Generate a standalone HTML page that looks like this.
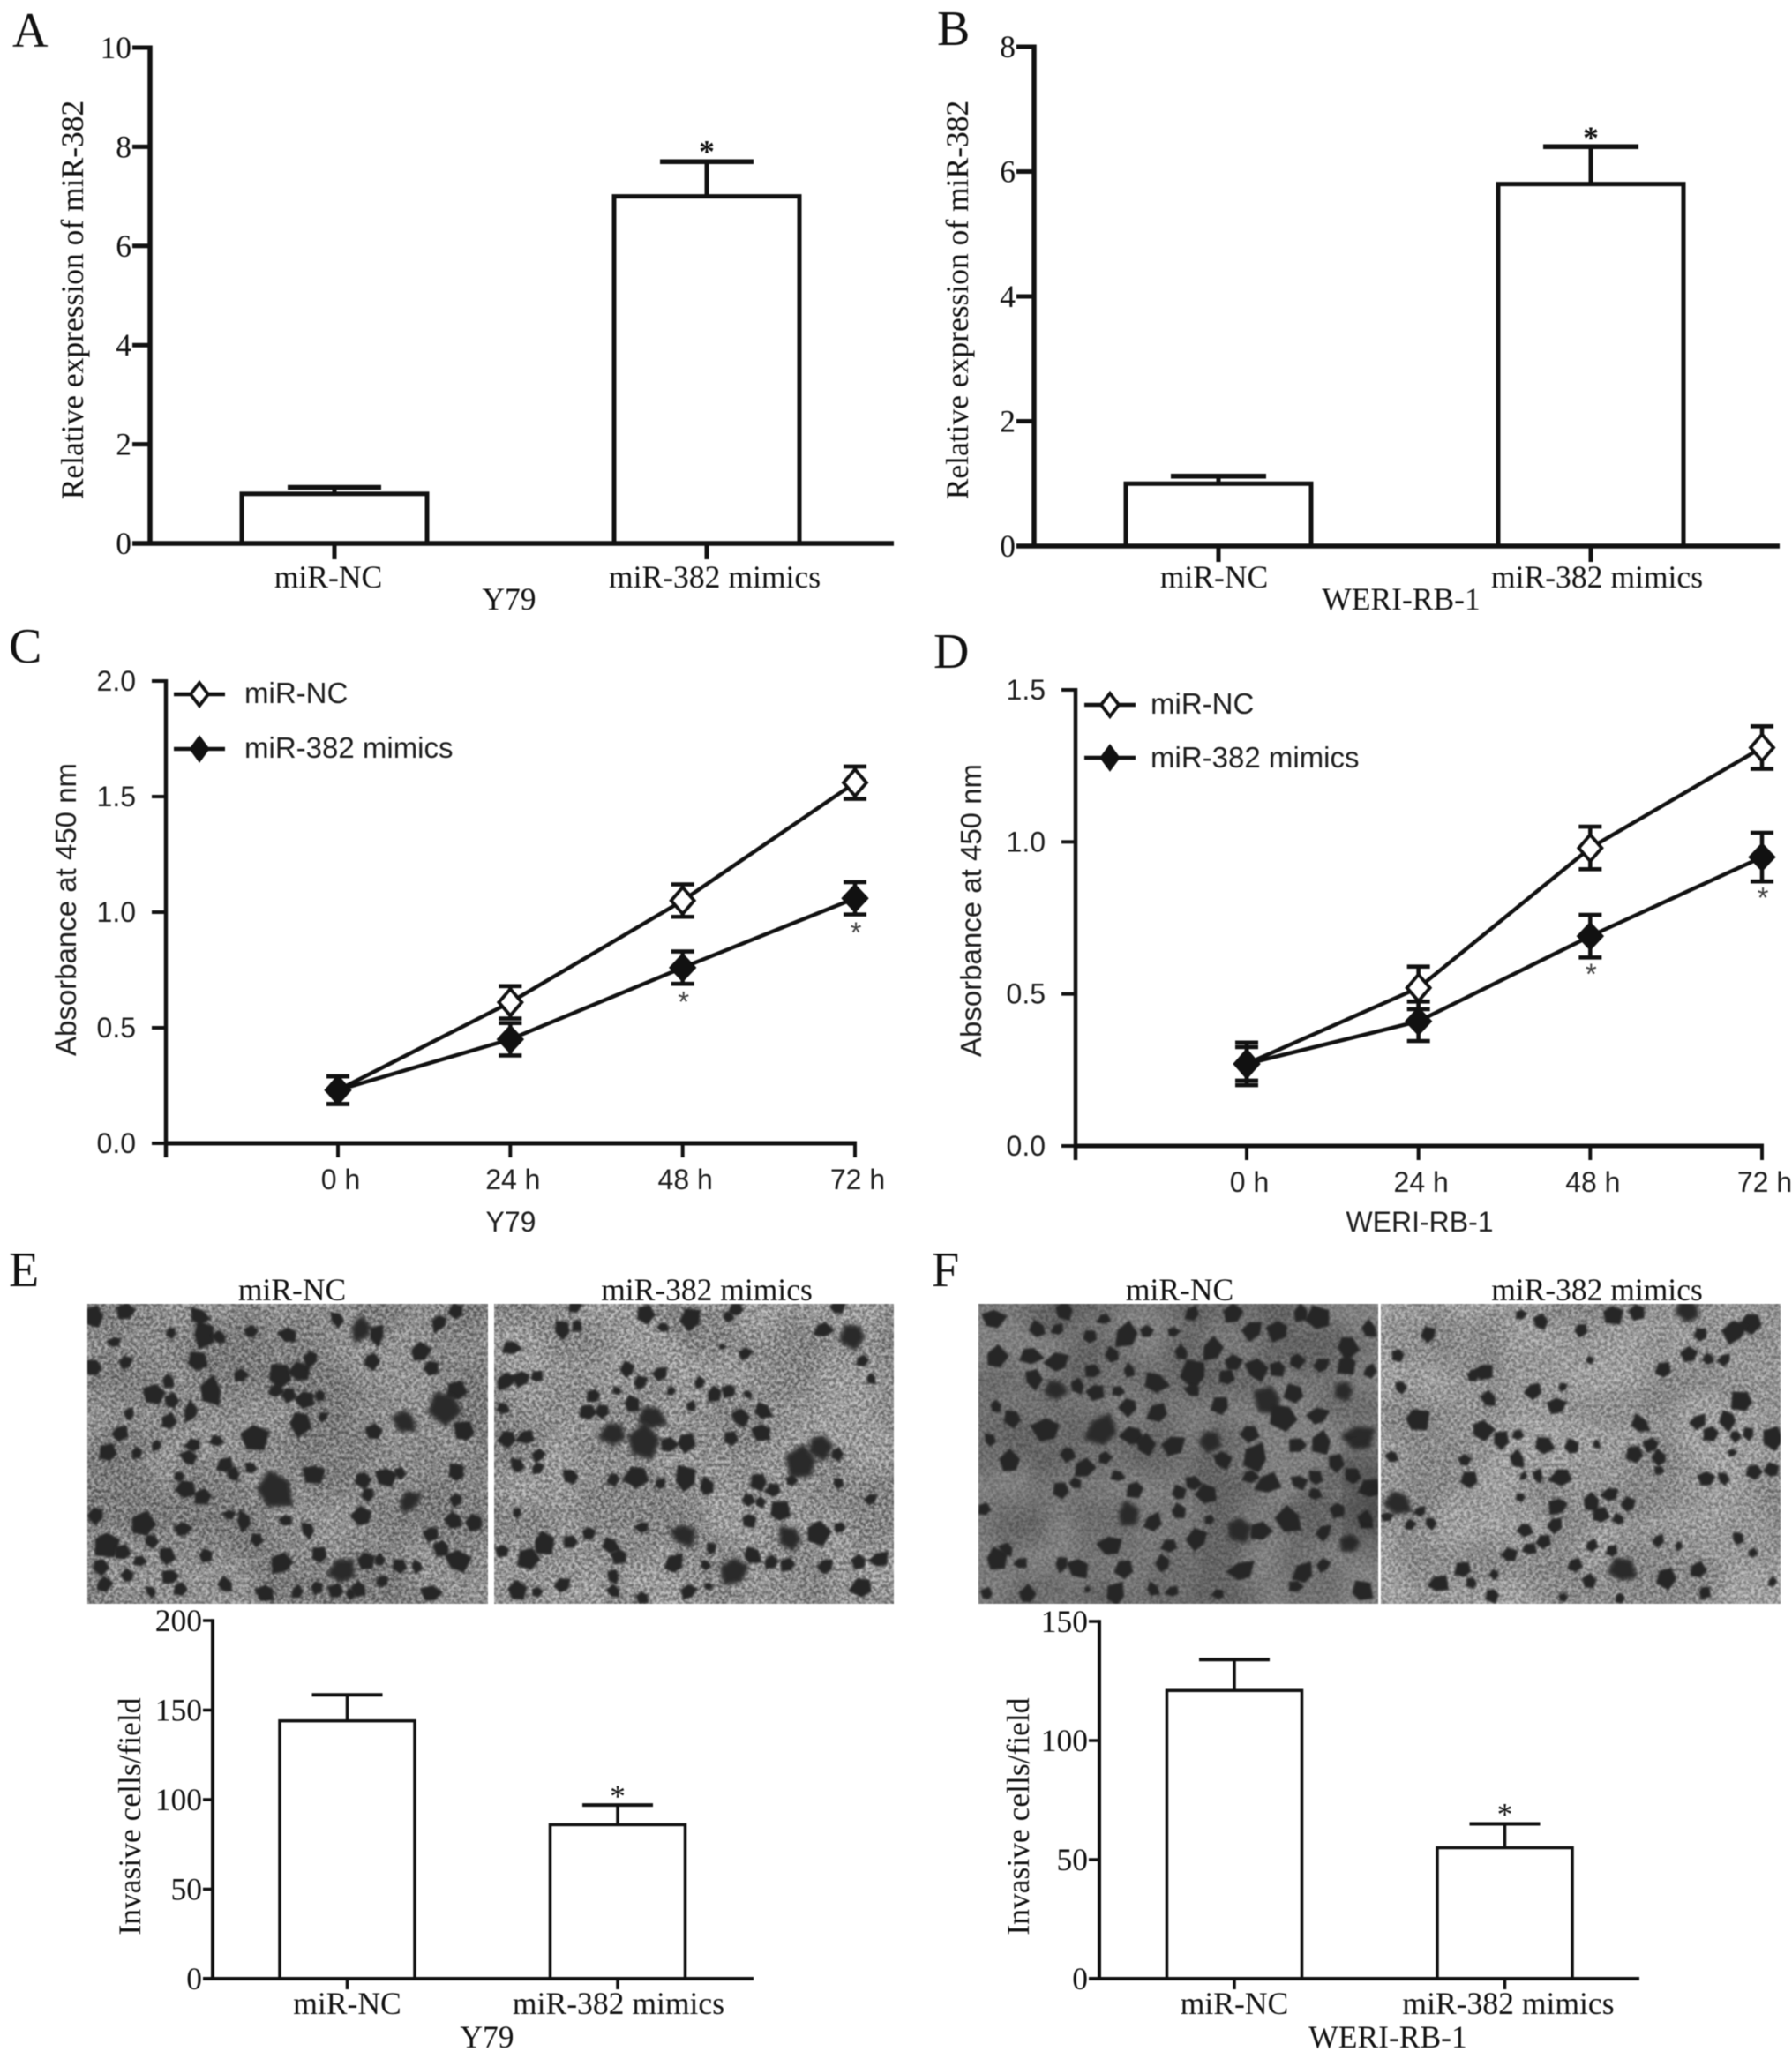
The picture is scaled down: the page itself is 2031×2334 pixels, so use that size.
<!DOCTYPE html>
<html lang="en">
<head>
<meta charset="utf-8">
<title>miR-382 figure</title>
<style>
html,body{margin:0;padding:0;background:#fff;width:2031px;height:2334px;overflow:hidden}
svg{display:block}
.serif{font-family:"Liberation Serif",serif;fill:#111}
.sans{font-family:"Liberation Sans",sans-serif;fill:#1e1e1e}
.letter{font-size:56px}
.s35{font-size:35.5px}
.s36{font-size:35.6px}
.s33{font-size:33px}
.s32{font-size:32px}
</style>
</head>
<body>
<svg id="figure" xmlns="http://www.w3.org/2000/svg" width="2031" height="2334" viewBox="0 0 2031 2334" style="filter:blur(.55px)">
<defs>
<filter id="grain" x="0" y="0" width="100%" height="100%" color-interpolation-filters="sRGB">
<feTurbulence type="fractalNoise" baseFrequency="0.27" numOctaves="2" seed="7"/>
<feColorMatrix type="matrix" values="2.3 0 0 0 -0.65 2.3 0 0 0 -0.65 2.3 0 0 0 -0.65 0 0 0 0 1"/>
</filter>
<filter id="mottle" x="0" y="0" width="100%" height="100%" color-interpolation-filters="sRGB">
<feTurbulence type="fractalNoise" baseFrequency="0.012" numOctaves="2" seed="11"/>
<feColorMatrix type="matrix" values="3 0 0 0 -1 3 0 0 0 -1 3 0 0 0 -1 0 0 0 0 1"/>
</filter>
<filter id="soft"><feGaussianBlur stdDeviation="2.4"/></filter>
<filter id="edge"><feGaussianBlur stdDeviation="1.1"/></filter>
<filter id="vig"><feGaussianBlur stdDeviation="24"/></filter>
</defs>

<text class="serif letter" x="14" y="53">A</text>
<text class="serif letter" x="1062" y="51">B</text>
<text class="serif letter" x="10" y="751">C</text>
<text class="serif letter" x="1058" y="757">D</text>
<text class="serif letter" x="10" y="1458">E</text>
<text class="serif letter" x="1056" y="1458">F</text>

<text class="serif s35" text-anchor="middle" transform="translate(94 340) rotate(-90)">Relative expression of miR-382</text>
<text class="serif s35" text-anchor="middle" x="577" y="691">Y79</text>
<text class="serif s35" text-anchor="middle" transform="translate(1097 340) rotate(-90)">Relative expression of miR-382</text>
<text class="serif s35" text-anchor="middle" x="1588" y="691">WERI-RB-1</text>

<text class="sans s33" text-anchor="middle" transform="translate(86 1031) rotate(-90)">Absorbance at 450 nm</text>
<text class="sans s32" text-anchor="middle" x="579" y="1396">Y79</text>
<text class="sans s33" text-anchor="middle" transform="translate(1112 1032) rotate(-90)">Absorbance at 450 nm</text>
<text class="sans s32" text-anchor="middle" x="1609" y="1396">WERI-RB-1</text>

<text class="sans s33" x="277" y="797">miR-NC</text>
<text class="sans s33" x="277" y="859">miR-382 mimics</text>
<text class="sans s33" x="1304" y="809">miR-NC</text>
<text class="sans s33" x="1304" y="870">miR-382 mimics</text>

<text class="serif s35" text-anchor="middle" x="331" y="1474">miR-NC</text>
<text class="serif s35" text-anchor="middle" x="801" y="1474">miR-382 mimics</text>
<text class="serif s35" text-anchor="middle" x="1337" y="1474">miR-NC</text>
<text class="serif s35" text-anchor="middle" x="1810" y="1474">miR-382 mimics</text>

<text class="serif s35" text-anchor="middle" transform="translate(159 2059) rotate(-90)">Invasive cells/field</text>
<text class="serif s35" text-anchor="middle" x="552" y="2321">Y79</text>
<text class="serif s35" text-anchor="middle" transform="translate(1166 2059) rotate(-90)">Invasive cells/field</text>
<text class="serif s35" text-anchor="middle" x="1573" y="2321">WERI-RB-1</text>
</svg>

<script>
// ---------- chart data ----------
const barCategories = ['miR-NC', 'miR-382 mimics'];
const panelAValues = [1, 7];
const panelAErrors = [0.13, 0.7];
const panelATicks = [0, 2, 4, 6, 8, 10];
const panelBValues = [1, 5.8];
const panelBErrors = [0.12, 0.6];
const panelBTicks = [0, 2, 4, 6, 8];
const panelEValues = [144, 86];
const panelEErrors = [14.5, 11];
const panelETicks = [0, 50, 100, 150, 200];
const panelFValues = [121, 55];
const panelFErrors = [13, 10];
const panelFTicks = [0, 50, 100, 150];

const timeLabels = ['0 h', '24 h', '48 h', '72 h'];
const panelCTicks = ['0.0', '0.5', '1.0', '1.5', '2.0'];
const panelCNc = [0.23, 0.61, 1.05, 1.56];
const panelCNcErr = [0.06, 0.07, 0.07, 0.07];
const panelCMimics = [0.23, 0.45, 0.76, 1.06];
const panelCMimicsErr = [0.06, 0.07, 0.07, 0.07];
const panelDTicks = ['0.0', '0.5', '1.0', '1.5'];
const panelDNc = [0.27, 0.52, 0.98, 1.31];
const panelDNcErr = [0.07, 0.07, 0.07, 0.07];
const panelDMimics = [0.27, 0.41, 0.69, 0.95];
const panelDMimicsErr = [0.055, 0.065, 0.07, 0.08];

// ---------- cell positions in the micrographs: [x, y, size] ----------
const cellsEL = [[165,125,12],[220,115,10],[300,155,8],[355,160,14],[385,165,10],[350,125,12],[440,155,10],[505,160,12],[635,150,18],[660,160,12],[770,135,12],[800,115,10],[200,175,8],[345,212,12],[420,240,10],[490,240,14],[525,235,12],[545,205,12],[590,130,10],[165,225,14],[220,215,10],[270,275,12],[295,250,8],[370,270,16],[300,290,10],[335,310,12],[225,315,8],[480,270,10],[505,275,10],[535,285,12],[560,280,8],[650,210,12],[735,195,12],[755,225,10],[800,270,12],[780,300,22],[710,325,18],[525,330,16],[565,320,8],[655,350,12],[815,350,14],[445,360,16],[210,350,10],[340,375,10],[380,365,8],[190,390,10],[240,390,8],[275,375,8],[295,330,10],[330,400,10],[395,415,10],[440,420,8],[410,430,8],[480,462,28],[550,428,12],[315,435,8],[325,460,12],[355,475,10],[635,440,10],[675,435,12],[700,430,8],[800,430,12],[715,485,18],[645,470,8],[400,510,8],[428,522,12],[500,520,8],[540,540,10],[635,515,12],[800,480,10],[795,520,10],[830,525,10],[755,545,10],[250,530,14],[320,540,10],[185,565,16],[265,560,10],[170,510,12],[450,558,8],[215,585,10],[775,575,10],[245,600,8],[290,590,10],[360,590,8],[495,605,14],[560,590,10],[600,620,24],[640,600,10],[665,600,8],[700,610,10],[730,610,8],[800,600,14],[175,610,10],[225,630,10],[300,630,12],[180,645,10],[395,648,10],[265,660,8],[465,660,12],[590,660,10],[630,655,10],[670,640,10],[755,665,12],[315,655,8],[555,650,10],[615,665,8],[520,660,8]];
const cellsER = [[895,185,12],[985,150,12],[1010,140,8],[1005,105,10],[1130,120,12],[1160,145,8],[1210,130,12],[1275,125,8],[1290,110,10],[1440,150,12],[1495,160,18],[1465,108,10],[1510,210,8],[1525,245,8],[1305,198,8],[1265,183,5],[885,250,12],[915,245,12],[940,243,8],[1100,228,10],[1155,235,10],[1120,255,10],[1040,278,10],[1080,270,6],[1175,270,8],[1105,295,12],[1030,310,10],[1055,310,10],[1225,255,8],[1250,275,10],[1278,268,10],[1310,275,6],[1210,300,8],[1335,308,12],[1295,322,12],[1140,322,20],[1075,352,20],[1125,370,24],[1170,375,10],[1200,368,12],[1280,362,12],[1335,348,12],[890,360,12],[920,360,10],[1435,375,20],[1405,410,22],[1465,392,8],[880,305,8],[905,415,10],[945,395,8],[940,420,8],[1000,435,10],[1075,440,8],[1115,435,14],[1200,442,16],[1155,452,8],[1238,458,12],[1330,445,10],[1385,445,8],[1468,450,8],[1355,462,12],[1310,480,8],[1330,485,8],[1365,505,14],[1525,480,8],[905,505,8],[1310,520,10],[1125,535,10],[1030,545,8],[1000,563,10],[950,565,14],[1070,570,10],[1195,548,20],[1385,555,22],[1430,545,16],[1472,535,8],[1245,578,8],[1085,590,10],[1315,590,12],[1350,603,8],[1380,608,10],[1445,610,10],[1505,602,10],[1538,598,12],[880,580,8],[925,595,14],[1180,608,14],[1285,620,24],[1235,607,6],[905,658,12],[940,660,8],[985,648,10],[1075,630,8],[1075,660,10],[1125,670,8],[1205,660,10],[1240,650,6],[1510,652,14]];
const cellsFL = [[170,130,14],[250,150,12],[295,115,14],[285,150,8],[365,130,8],[405,160,16],[440,155,10],[485,155,8],[520,120,10],[590,120,12],[625,150,12],[672,150,14],[710,118,10],[740,130,14],[790,180,16],[830,150,10],[175,205,14],[235,200,14],[285,215,14],[380,200,12],[340,165,8],[345,232,10],[410,230,8],[500,195,10],[525,235,16],[555,190,14],[580,245,10],[630,228,14],[590,215,12],[670,225,10],[700,210,10],[745,220,10],[790,215,14],[240,245,12],[280,265,18],[318,260,10],[350,270,10],[390,270,8],[455,252,14],[520,268,10],[410,298,12],[460,312,16],[570,298,12],[655,285,22],[700,275,12],[785,268,20],[830,230,8],[175,300,8],[205,322,12],[265,345,16],[360,345,22],[415,355,14],[300,390,10],[365,400,8],[435,375,12],[485,375,14],[550,365,18],[620,350,10],[680,320,16],[740,320,12],[705,375,12],[745,370,14],[810,360,22],[165,365,8],[200,408,14],[330,420,14],[390,435,8],[420,460,12],[290,462,10],[315,450,8],[570,403,12],[630,400,16],[620,435,10],[650,450,14],[705,445,10],[735,440,10],[770,410,10],[800,435,14],[830,460,14],[735,470,10],[520,450,10],[495,470,10],[545,470,12],[405,510,18],[450,525,12],[495,505,10],[155,500,8],[550,520,8],[600,538,20],[638,542,14],[690,520,16],[775,500,12],[750,545,10],[825,520,10],[530,558,12],[480,570,10],[375,570,16],[795,565,20],[175,597,14],[195,578,10],[218,605,8],[320,612,14],[290,605,10],[400,615,12],[470,605,10],[605,620,16],[715,625,14],[750,610,8],[700,650,8],[815,660,14],[160,665,8],[230,668,12],[385,665,14],[450,655,10],[485,660,8],[565,665,8],[335,655,5]];
const cellsFR = [[935,160,10],[880,200,8],[1390,115,22],[1500,135,14],[1255,120,12],[1300,115,10],[1130,135,10],[1200,150,10],[1470,155,14],[1410,160,8],[1095,120,8],[1390,200,10],[1425,208,8],[1452,208,8],[1215,210,6],[1345,228,12],[1030,232,12],[1010,240,8],[885,262,8],[1117,268,10],[1168,262,6],[1040,285,10],[1158,298,12],[1485,290,14],[910,325,16],[1025,345,14],[1305,335,12],[1405,328,10],[1460,325,12],[1428,352,12],[1470,355,8],[1495,352,8],[1535,362,14],[1060,365,10],[1090,355,8],[1135,375,12],[1185,380,10],[1228,372,6],[1325,375,10],[1295,392,10],[1340,400,10],[1465,390,6],[870,395,8],[995,405,8],[1090,402,10],[1005,442,10],[1100,435,6],[1125,435,8],[1168,435,14],[1338,425,6],[1420,440,10],[1450,440,8],[1503,425,10],[1535,425,10],[1095,475,6],[880,487,20],[1160,492,12],[1218,485,12],[1252,472,10],[1285,490,8],[1235,512,10],[920,503,8],[1268,520,8],[860,515,8],[900,530,8],[937,525,8],[1103,538,10],[1155,530,10],[1135,562,8],[1110,578,8],[1075,590,10],[1218,570,8],[1255,582,8],[1335,560,8],[1372,570,6],[1475,558,8],[1500,585,6],[995,618,10],[1190,608,8],[1272,618,20],[1215,640,10],[1350,632,12],[1405,618,12],[1535,640,6],[950,645,12],[1010,642,8],[1045,665,10],[1415,660,8],[1050,625,6],[1170,672,6],[1268,672,6]];

// ---------- drawing ----------
const NS = 'http://www.w3.org/2000/svg';
const root = document.getElementById('figure');
const INK = '#111';

function svgEl(tag, attrs, parent) {
  const el = document.createElementNS(NS, tag);
  for (const k in attrs) el.setAttribute(k, attrs[k]);
  (parent || root).appendChild(el);
  return el;
}
function seg(parent, x1, y1, x2, y2, w, name) {
  const el = svgEl('line', {x1: x1, y1: y1, x2: x2, y2: y2, stroke: INK, 'stroke-width': w}, parent);
  
  
  return el;
}
function label(parent, x, y, str, cls, anchor, name) {
  const el = svgEl('text', {x: x, y: y, class: cls, 'text-anchor': anchor}, parent);
  el.textContent = str;
  
  
  return el;
}
function group(name) {
  const g = svgEl('g', {});
  
  
  return g;
}
function linearScale(v0, v1, p0, p1) {
  return function (v) { return p0 + (v - v0) / (v1 - v0) * (p1 - p0); };
}

function drawBarChart(id, values, errors, ticks, o) {
  const g = group(id + '-bar-chart');
  const y = linearScale(ticks[0], ticks[ticks.length - 1], o.y0, o.yTop);
  const x = linearScale(0, 1, o.c0, o.c1);
  values.forEach(function (v, i) {
    const c = x(i);
    const top = y(v + errors[i]);
    seg(g, c, y(v), c, top, o.sw, id + '-error-stem-' + i);
    seg(g, c - o.cap, top, c + o.cap, top, o.sw + 0.5, id + '-error-cap-' + i);
    const bar = svgEl('rect', {x: c - o.bw / 2, y: y(v), width: o.bw, height: o.y0 - y(v), fill: '#fff', stroke: INK, 'stroke-width': o.sw}, g);
    
    
    seg(g, c, o.y0, c, o.y0 + o.tickDown, o.sw, id + '-x-tick-' + i);
    label(g, c + o.labelDx[i], o.labelY, barCategories[i], 'serif s36', 'middle', id + '-x-label-' + i);
  });
  seg(g, o.axisX, o.yTop - o.sw / 2, o.axisX, o.y0 + o.sw / 2, o.sw + 0.5, id + '-y-axis');
  seg(g, o.axisX - o.tick, o.y0, o.xEnd, o.y0, o.sw + 0.5, id + '-x-axis');
  ticks.forEach(function (t, i) {
    seg(g, o.axisX - o.tick, y(t), o.axisX, y(t), o.sw, id + '-y-tick-' + i);
    label(g, o.axisX - o.tick - 1, y(t) + 12, String(t), 'serif s35', 'end', id + '-y-label-' + i);
  });
  const star = label(g, x(1), y(values[1] + errors[1]) + o.starDy, '*', 'serif s36', 'middle', id + '-significance-star');
  if (o.starBold) star.setAttribute('font-weight', 'bold');
}

function drawDiamond(parent, cx, cy, filled, hw, hh, name) {
  const el = svgEl('polygon', {
    points: [cx, cy - hh, cx + hw, cy, cx, cy + hh, cx - hw, cy].join(' '),
    fill: filled ? INK : '#fff',
    stroke: INK,
    'stroke-width': filled ? 1 : 3.8
  }, parent);
  
  
}

function drawLineSeries(g, id, name, values, errs, x, y, filled) {
  const poly = svgEl('polyline', {
    points: values.map(function (v, i) { return x(i) + ',' + y(v); }).join(' '),
    fill: 'none', stroke: INK, 'stroke-width': 4.4
  }, g);
  
  
  values.forEach(function (v, i) {
    const c = x(i);
    seg(g, c, y(v + errs[i]), c, y(v - errs[i]), 4.6, id + '-error-' + name + '-' + i);
    seg(g, c - 13, y(v + errs[i]), c + 13, y(v + errs[i]), 4.6, id + '-cap-high-' + name + '-' + i);
    seg(g, c - 13, y(v - errs[i]), c + 13, y(v - errs[i]), 4.6, id + '-cap-low-' + name + '-' + i);
    drawDiamond(g, c, y(v), filled, filled ? 15 : 13, filled ? 16 : 15, id + '-point-' + name + '-' + i);
  });
}

function drawLineChart(id, nc, ncErr, mim, mimErr, ticks, o) {
  const g = group(id + '-line-chart');
  const y = linearScale(0, parseFloat(ticks[ticks.length - 1]), o.y0, o.yTop);
  const x = linearScale(0, timeLabels.length - 1, o.x0, o.x3);
  seg(g, o.axisX, o.yTop - 2, o.axisX, o.y0 + 16, 4.5, id + '-y-axis');
  seg(g, o.axisX, o.y0, o.x3 + 2, o.y0, 5, id + '-x-axis');
  ticks.forEach(function (t, i) {
    const v = parseFloat(t);
    seg(g, o.axisX - 16, y(v), o.axisX, y(v), 4, id + '-y-tick-' + i);
    label(g, o.axisX - 34, y(v) + 11, t, 'sans s32', 'end', id + '-y-label-' + i);
  });
  timeLabels.forEach(function (t, i) {
    seg(g, x(i), o.y0, x(i), o.y0 + 16, 4, id + '-x-tick-' + i);
    label(g, x(i) + 3, o.y0 + 52, t, 'sans s32', 'middle', id + '-x-label-' + i);
  });
  drawLineSeries(g, id, 'nc', nc, ncErr, x, y, false);
  drawLineSeries(g, id, 'mimics', mim, mimErr, x, y, true);
  [2, 3].forEach(function (i) {
    const s = label(g, x(i) + 1, y(mim[i] - mimErr[i]) + o.starDy, '*', 'sans s33', 'middle', id + '-significance-star-' + i);
    s.style.fill = '#444';
  });
  [[o.legendY[0], false, 'nc'], [o.legendY[1], true, 'mimics']].forEach(function (e) {
    seg(g, o.legendX - 29, e[0], o.legendX + 29, e[0], 4.4, id + '-legend-line-' + e[2]);
    drawDiamond(g, o.legendX, e[0], e[1], e[1] ? 11 : 10, e[1] ? 15 : 13, id + '-legend-marker-' + e[2]);
  });
}

function hash(a, b) {
  const s = Math.sin(a * 12.9898 + b * 78.233) * 43758.5453;
  return s - Math.floor(s);
}

function drawMicrograph(id, cells, zx0, ox, oy, w, h, shade, grain, clipId) {
  const g = group(id + '-micrograph');
  const clip = svgEl('clipPath', {id: clipId}, g);
  svgEl('rect', {x: ox, y: oy, width: w, height: h}, clip);
  const inner = svgEl('g', {'clip-path': 'url(#' + clipId + ')'}, g);
  svgEl('rect', {x: ox, y: oy, width: w, height: h, fill: shade}, inner);
  svgEl('rect', {x: ox, y: oy, width: w, height: h, filter: 'url(#mottle)', opacity: 0.12}, inner);
  svgEl('rect', {x: ox, y: oy, width: w, height: h, filter: 'url(#grain)', opacity: grain}, inner);
  const sx = 1 / 1.545, sy = 1 / 1.7155;
  cells.forEach(function (c, i) {
    const px = ox + (c[0] - zx0) * sx;
    const py = oy + (c[1] - 100) * sy;
    const big = c[2] >= 18;
    const r = c[2] * (big ? 0.8 : 0.96);
    const pts = [];
    const n = 5;
    const rot = hash(i, c[0]) * 6.28;
    for (let k = 0; k < n; k++) {
      const rr = r * (0.65 + 0.65 * hash(c[0] + k, c[1] - k));
      const a = rot + k / n * 6.283;
      pts.push((px + Math.cos(a) * rr).toFixed(1) + ',' + (py + Math.sin(a) * rr).toFixed(1));
    }
    const cell = svgEl('polygon', {
      points: pts.join(' '),
      fill: big ? '#2c2c2c' : '#252525',
      filter: big ? 'url(#soft)' : 'url(#edge)'
    }, inner);
    
    
  });
  return inner;
}

drawBarChart('panel-a', panelAValues, panelAErrors, panelATicks, {
  axisX: 170, y0: 616, yTop: 54, c0: 379, c1: 801, bw: 210, cap: 53, sw: 5, tick: 20, xEnd: 1013,
  tickDown: 18, labelDx: [-7, 9], labelY: 666, starDy: 0, starBold: true
});
drawBarChart('panel-b', panelBValues, panelBErrors, panelBTicks, {
  axisX: 1172, y0: 619, yTop: 53, c0: 1381, c1: 1803, bw: 210, cap: 54, sw: 5, tick: 20, xEnd: 2017,
  tickDown: 18, labelDx: [-5, 7], labelY: 666, starDy: 2, starBold: true
});
drawLineChart('panel-c', panelCNc, panelCNcErr, panelCMimics, panelCMimicsErr, panelCTicks, {
  axisX: 188, y0: 1296, yTop: 772, x0: 383, x3: 969, legendX: 226, legendY: [787, 849], starDy: 32
});
drawLineChart('panel-d', panelDNc, panelDNcErr, panelDMimics, panelDMimicsErr, panelDTicks, {
  axisX: 1219, y0: 1299, yTop: 782, x0: 1413, x3: 1997, legendX: 1258, legendY: [799, 859], starDy: 30
});
drawMicrograph('panel-e-nc', cellsEL, 153, 99, 1478, 454, 340, '#8c8c8c', 0.3, 'clip-el');
drawMicrograph('panel-e-mimics', cellsER, 865, 560, 1478, 453, 340, '#9c9c9c', 0.32, 'clip-er');
const fNcInner = drawMicrograph('panel-f-nc', cellsFL, 145, 1109, 1478, 453, 340, '#6e6e6e', 0.13, 'clip-fl');
const vignette = svgEl('ellipse', {cx: 1555, cy: 1700, rx: 28, ry: 60, fill: '#222', filter: 'url(#vig)', opacity: 0.6}, fNcInner);


drawMicrograph('panel-f-mimics', cellsFR, 850, 1565, 1478, 453, 340, '#a0a0a0', 0.26, 'clip-fr');
drawBarChart('panel-e', panelEValues, panelEErrors, panelETicks, {
  axisX: 241, y0: 2243, yTop: 1837, c0: 393.5, c1: 700, bw: 153, cap: 40, sw: 3.5, tick: 11, xEnd: 854,
  tickDown: 12, labelDx: [0, 1], labelY: 2283, starDy: 2, starBold: false
});
drawBarChart('panel-f', panelFValues, panelFErrors, panelFTicks, {
  axisX: 1246, y0: 2243, yTop: 1838, c0: 1399, c1: 1705.5, bw: 153, cap: 40, sw: 3.5, tick: 12, xEnd: 1858,
  tickDown: 12, labelDx: [0, 4], labelY: 2283, starDy: 1, starBold: false
});
</script>
</body>
</html>
